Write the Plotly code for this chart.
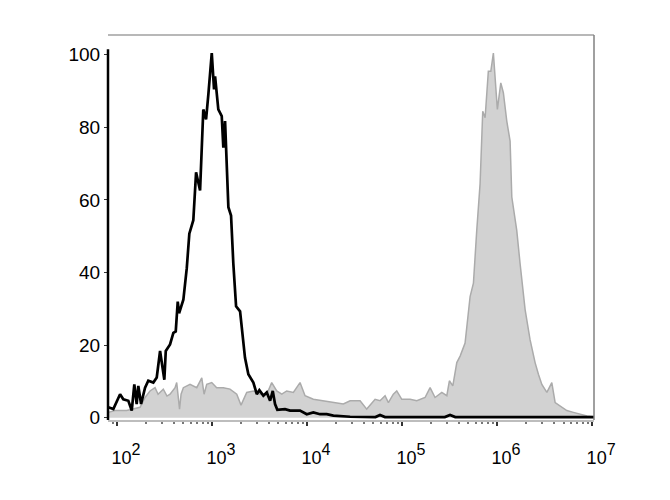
import numpy as np
import plotly.graph_objects as go

# control (unstained) - black outline; x given as log10 of intensity
ctrl_log_x = [1.908, 1.961, 2.032, 2.066, 2.119, 2.155, 2.182, 2.207, 2.224, 2.253,
              2.295, 2.329, 2.382, 2.418, 2.453, 2.498, 2.513, 2.558, 2.593, 2.618,
              2.639, 2.653, 2.698, 2.734, 2.761, 2.803, 2.832, 2.874, 2.908, 2.937,
              2.961, 2.997, 3.021, 3.032, 3.066, 3.102, 3.119, 3.137, 3.172, 3.200,
              3.224, 3.253, 3.295, 3.347, 3.382, 3.435, 3.471, 3.498, 3.540, 3.576,
              3.611, 3.639, 3.663, 3.687, 3.768, 3.821, 3.926, 3.997, 4.066, 4.137,
              4.207, 4.277, 4.453, 4.720, 4.768, 4.820, 5.450, 5.505, 5.560, 7.020]
ctrl_y = [2.9, 2.4, 6.5, 5.1, 4.7, 2.0, 9.2, 3.8, 8.8, 3.8,
          8.3, 10.2, 9.7, 11.1, 18.4, 10.5, 18.4, 20.2, 23.4, 23.8,
          32.0, 28.8, 32.5, 41.2, 50.7, 54.4, 67.6, 62.6, 84.9, 82.2,
          89.0, 100.4, 90.4, 94.0, 84.9, 83.1, 74.4, 81.7, 58.0, 55.7,
          42.5, 30.7, 29.3, 16.5, 12.0, 9.7, 6.5, 7.6, 6.1, 7.0,
          4.7, 7.4, 3.8, 2.2, 2.4, 2.0, 2.0, 1.0, 1.5, 1.0,
          1.0, 0.6, 0.3, 0.2, 0.8, 0.2, 0.2, 0.8, 0.2, 0.2]

# stained sample - grey filled
stain_log_x = [1.908, 1.979, 2.102, 2.242, 2.295, 2.347, 2.400, 2.432, 2.487, 2.526,
               2.558, 2.611, 2.628, 2.658, 2.674, 2.698, 2.768, 2.839, 2.892, 2.916,
               2.944, 2.997, 3.049, 3.119, 3.189, 3.260, 3.305, 3.365, 3.435, 3.505,
               3.576, 3.628, 3.681, 3.734, 3.786, 3.856, 3.926, 3.979, 4.066, 4.172,
               4.277, 4.382, 4.453, 4.558, 4.628, 4.716, 4.768, 4.821, 4.856, 4.908,
               4.944, 4.997, 5.084, 5.155, 5.242, 5.295, 5.347, 5.418, 5.471, 5.498,
               5.534, 5.576, 5.611, 5.663, 5.716, 5.751, 5.786, 5.821, 5.849, 5.874,
               5.908, 5.934, 5.961, 5.979, 6.003, 6.039, 6.066, 6.102, 6.137, 6.155,
               6.207, 6.242, 6.295, 6.347, 6.400, 6.435, 6.471, 6.524, 6.576, 6.611,
               6.681, 6.734, 6.803, 6.874, 6.947, 7.020]
stain_y = [1.5, 2.0, 2.0, 2.9, 5.6, 7.4, 8.3, 6.5, 7.9, 6.0,
           6.5, 8.3, 9.7, 2.4, 6.5, 8.3, 9.2, 8.3, 11.0, 6.5,
           9.2, 9.7, 8.3, 8.3, 7.9, 6.5, 3.5, 7.0, 7.4, 6.5,
           6.5, 9.7, 7.4, 6.5, 7.4, 7.0, 9.7, 6.1, 5.1, 4.7,
           4.2, 3.8, 4.7, 4.7, 2.4, 5.1, 4.7, 6.1, 4.2, 6.5,
           7.4, 5.1, 5.1, 4.7, 5.6, 8.3, 5.6, 7.0, 6.1, 10.2,
           8.8, 15.2, 17.0, 20.6, 33.4, 37.1, 51.6, 64.4, 84.4, 82.6,
           95.4, 95.4, 100.4, 92.6, 84.9, 92.2, 89.5, 81.7, 76.2, 60.8,
           51.6, 42.5, 29.8, 21.5, 15.2, 12.0, 9.2, 7.0, 9.7, 4.2,
           2.9, 2.0, 1.5, 1.0, 0.5, 0.3]

decades = [2, 3, 4, 5, 6, 7]
y_ticks = [0, 20, 40, 60, 80, 100]

fig = go.Figure()

fig.add_trace(go.Scatter(x=10 ** np.array(stain_log_x), y=stain_y, mode="lines",
                         fill="tozeroy", fillcolor="#d2d2d2",
                         line=dict(color="#ababab", width=1.5)))
fig.add_trace(go.Scatter(x=10 ** np.array(ctrl_log_x), y=ctrl_y, mode="lines",
                         line=dict(color="black", width=2.7)))

# frame: grey top/right, black left
fig.add_shape(type="line", xref="paper", yref="paper", x0=0, x1=1, y0=1, y1=1,
              line=dict(color="#a0a0a0", width=1.5))
fig.add_shape(type="line", xref="paper", yref="paper", x0=1, x1=1, y0=0, y1=1,
              line=dict(color="#808080", width=1.5))
fig.add_shape(type="line", xref="paper", yref="y", x0=0, x1=0, y0=-0.6, y1=101.5,
              line=dict(color="black", width=2.5))

font = dict(family="Liberation Sans, Arial, sans-serif", size=19, color="black")

fig.update_layout(
    width=670, height=500,
    margin=dict(l=100, r=84, t=27, b=88),
    paper_bgcolor="white", plot_bgcolor="white",
    showlegend=False,
    font=font,
    xaxis=dict(type="log", range=[1.905, 7.02],
               tickvals=[10 ** d for d in decades],
               ticktext=["10<span style='font-size:23px'><sup>%d</sup></span>" % d
                         for d in decades],
               tickfont=dict(size=18),
               ticks="outside", ticklen=4, tickcolor="#333", tickwidth=1.5,
               minor=dict(dtick="D1", ticks="outside", ticklen=2, tickcolor="#777"),
               showline=True, linecolor="#bdbdbd", linewidth=1.5,
               showgrid=False, zeroline=False,
               ticklabelshift=9, ticklabelstandoff=17),
    yaxis=dict(range=[-0.6, 105.4], tickvals=y_ticks,
               ticks="outside", ticklen=3, tickcolor="#333",
               showline=False, showgrid=False, zeroline=False),
)

fig.write_html("out.html")
